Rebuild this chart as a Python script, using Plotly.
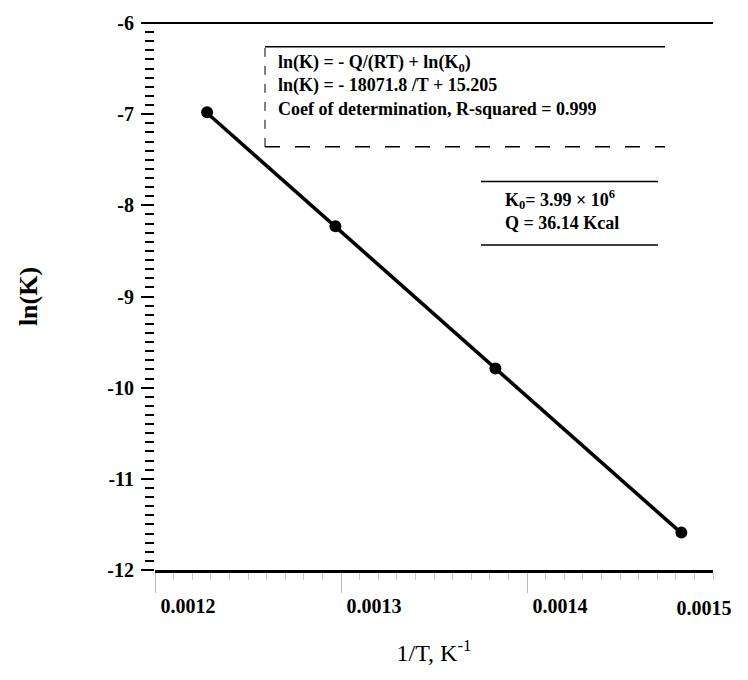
import numpy as np
import plotly.graph_objects as go

# Arrhenius data: inverse temperature (1/K) and ln of the rate constant
inv_T = [0.001228, 0.001297, 0.001383, 0.001483]
ln_K = [-6.98, -8.23, -9.79, -11.59]

# Linear regression reported on the chart: ln(K) = slope / T + intercept
fit_slope = -18071.8
fit_intercept = 15.205
r_squared = 0.999
K0_mantissa, K0_exp = 3.99, 6
Q_kcal = 36.14

x_ticks = [0.0012, 0.0013, 0.0014, 0.0015]
x_tick_text = ["0.0012", "0.0013", "0.0014", "0.0015"]
y_ticks = [-6, -7, -8, -9, -10, -11, -12]
y_tick_text = ["-6", "-7", "-8", "-9", "-10", "-11", "-12"]

SERIF = "Liberation Serif"
INK = "#000000"

# plot-area geometry in pixels, used to place the text boxes
L, R, T, B = 155, 35, 18, 110
W, H = 748, 680
PW, PH = W - L - R, H - T - B


def px(x):
    return (x - L) / PW


def py(y):
    return (H - B - y) / PH


fit_x = np.array([min(inv_T), max(inv_T)])
fit_y = fit_slope * fit_x + fit_intercept

fig = go.Figure()

fig.add_trace(go.Scatter(
    x=fit_x, y=fit_y, mode="lines",
    line=dict(color=INK, width=3.6), hoverinfo="skip", showlegend=False,
))
fig.add_trace(go.Scatter(
    x=inv_T, y=ln_K, mode="markers",
    marker=dict(color=INK, size=12), showlegend=False,
))
# invisible helper so the secondary label axis is drawn
fig.add_trace(go.Scatter(
    x=[x_ticks[-1]], y=[ln_K[-1]], xaxis="x2", mode="markers",
    marker=dict(opacity=0), hoverinfo="skip", showlegend=False,
))

tick_font = dict(family=SERIF, size=20, color=INK, weight="bold")

fig.update_layout(
    width=W, height=H,
    margin=dict(l=L, r=R, t=T, b=B),
    paper_bgcolor="white", plot_bgcolor="white",
    font=dict(family=SERIF, color=INK),
    xaxis=dict(
        range=[0.0012, 0.0015],
        tickvals=x_ticks[:-1], ticktext=x_tick_text[:-1],
        tickfont=tick_font, ticklabelshift=33, ticklabelstandoff=-4,
        ticks="outside", ticklen=20, tickcolor="#b8b8b8", tickwidth=1,
        minor=dict(dtick=0.00001, ticks="outside", ticklen=7,
                   tickcolor="#c8c8c8", tickwidth=1),
        showline=True, linecolor=INK, linewidth=2.5,
        showgrid=False, zeroline=False, mirror=False,
        title=dict(text="1/T, K<sup>-1</sup>",
                   font=dict(family=SERIF, size=24, color=INK),
                   standoff=29),
    ),
    xaxis2=dict(
        overlaying="x", matches="x", anchor="y", side="bottom",
        tickvals=x_ticks[-1:], ticktext=x_tick_text[-1:],
        tickfont=tick_font, ticklabelstandoff=24, ticklabelshift=-9,
        ticks="", showline=False, showgrid=False, zeroline=False,
    ),
    yaxis=dict(
        range=[-12, -6],
        tickvals=y_ticks, ticktext=y_tick_text, tickfont=tick_font,
        ticks="outside", ticklen=13, tickcolor=INK, tickwidth=1.6,
        ticklabelstandoff=3,
        minor=dict(dtick=0.1, ticks="outside", ticklen=9,
                   tickcolor=INK, tickwidth=1.6),
        showline=False, showgrid=False, zeroline=False,
        title=dict(text="ln(K)",
                   font=dict(family=SERIF, size=26, color=INK, weight="bold"),
                   standoff=62),
    ),
)

# top frame line
fig.add_shape(type="line", xref="paper", yref="paper",
              x0=px(148), x1=1, y0=1, y1=1,
              line=dict(color=INK, width=2))

# regression summary box
fig.add_shape(type="line", xref="paper", yref="paper",
              x0=px(265), x1=px(665), y0=py(42), y1=py(42),
              line=dict(color=INK, width=1.5))
fig.add_shape(type="line", xref="paper", yref="paper",
              x0=px(265), x1=px(665), y0=py(143), y1=py(143),
              line=dict(color=INK, width=1.5, dash="longdash"))
fig.add_shape(type="line", xref="paper", yref="paper",
              x0=px(265), x1=px(265), y0=py(143), y1=py(42),
              line=dict(color=INK, width=1, dash="dash"))

eq_lines = [
    "ln(K) = - Q/(RT) + ln(K<sub>0</sub>)",
    f"ln(K) = - {abs(fit_slope):.1f} /T + {fit_intercept:.3f}",
    f"Coef of determination, R-squared = {r_squared:.3f}",
]
fig.add_annotation(
    xref="paper", yref="paper", x=px(276), y=py(45),
    xanchor="left", yanchor="top", align="left", showarrow=False,
    text="<br>".join(eq_lines),
    font=dict(family=SERIF, size=18, color=INK, weight="bold"),
)

# fitted constants box
fig.add_shape(type="line", xref="paper", yref="paper",
              x0=px(481), x1=px(658), y0=py(178), y1=py(178),
              line=dict(color=INK, width=1.5))
fig.add_shape(type="line", xref="paper", yref="paper",
              x0=px(481), x1=px(658), y0=py(242), y1=py(242),
              line=dict(color=INK, width=1.5))
fig.add_annotation(
    xref="paper", yref="paper", x=px(503), y=py(181),
    xanchor="left", yanchor="top", align="left", showarrow=False,
    text=(f"K<sub>0</sub>= {K0_mantissa:.2f} × 10<sup>{K0_exp}</sup>"
          f"<br>Q = {Q_kcal:.2f} Kcal"),
    font=dict(family=SERIF, size=18, color=INK, weight="bold"),
)

fig.write_html("out.html")
